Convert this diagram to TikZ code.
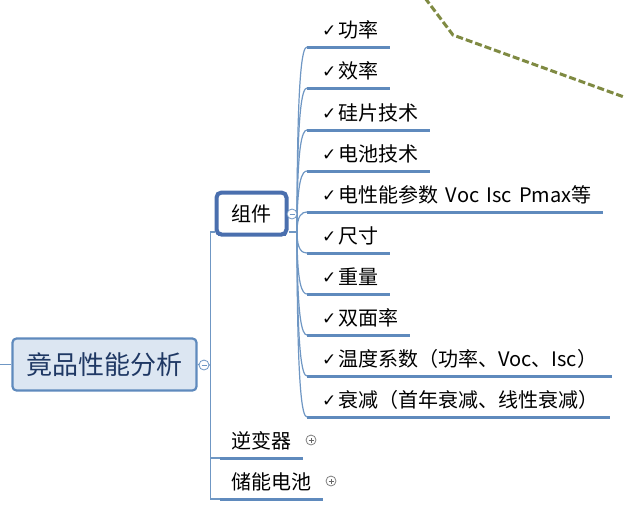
\documentclass[tikz,border=0pt]{standalone}
\usepackage{fontspec}
\setmainfont{Noto Sans CJK SC}
\newfontfamily\chkfont{DejaVu Sans}
\usetikzlibrary{calc}
\definecolor{barblue}{HTML}{5F8ABD}
\definecolor{wireblue}{HTML}{6F97C4}
\definecolor{boxblue}{HTML}{4A6FAE}
\definecolor{rootfill}{HTML}{DCE6F2}
\definecolor{rootedge}{HTML}{5F8ABD}
\definecolor{roottext}{HTML}{1F3864}
\definecolor{dashol}{HTML}{7F8A42}
\newcommand{\ck}{\makebox[16pt][l]{\raisebox{1pt}{\chkfont\fontsize{17}{17}\selectfont ✓}}}
\tikzset{
  leaf/.style={anchor=south west,inner xsep=0pt,inner ysep=0pt,text height=14pt,text depth=9.5pt,align=left,font=\fontsize{20}{22}\selectfont,text=black},
  bar/.style={draw=barblue,line width=3pt},
  wire/.style={draw=wireblue,line width=1.2pt},
  toggle/.style={circle,draw=#1,fill=white,line width=.8pt,minimum size=10pt,inner sep=0pt}
}
\newcommand{\leafnode}[5]{%
  \node[leaf,text width=#4pt] (#1) at (#2,#3) {\hspace*{15pt}\ck #5};
  \draw[bar] (#1.south west) -- (#1.south east);
  \draw[wire] (hub) .. controls ($(hub)!0.85!(hub|-#1.south west)$) and ($(#1.south west)+(-5,0)$) .. (#1.south west);
}
\begin{document}
\begin{tikzpicture}[x=1pt,y=-1pt]
\useasboundingbox (0,0) rectangle (624,507);
\fill[white] (0,0) rectangle (624,507);
\draw[dashol,line width=3pt,dash pattern=on 7pt off 3pt] (425,-2) -- (453,35) -- (624,97);

\coordinate (leftend) at (0,364.5);
\node[draw=rootedge,fill=rootfill,line width=2.2pt,rounded corners=4pt,minimum width=184pt,minimum height=52pt,inner sep=0pt,text=roottext,font=\fontsize{26}{28}\selectfont] (root) at (104.5,364.5) {竟品性能分析};
\draw[wire] (leftend) -- (root.west);

\node[draw=boxblue,line width=4pt,rounded corners=5pt,minimum width=70pt,minimum height=42pt,inner sep=0pt,font=\fontsize{20}{22}\selectfont] (zj) at (251.5,213.5) {组件};
\draw[draw=boxblue,line width=2.5pt] ([xshift=3pt,yshift=1.5pt]zj.south west) -- ([xshift=-3pt,yshift=1.5pt]zj.south east);
\coordinate (hub) at (297,232);
\coordinate (spine) at (210.5,365);

\leafnode{a}{307}{47}{83}{功率}
\leafnode{b}{307}{88}{83}{效率}
\leafnode{c}{307}{130}{123}{硅片技术}
\leafnode{d}{307}{171}{123}{电池技术}
\leafnode{e}{307}{212}{296}{电性能参数\hspace{1pt} Voc\hspace{.5pt} Isc\hspace{.5pt} Pmax等}
\leafnode{f}{307}{253}{83}{尺寸}
\leafnode{g}{307}{294}{83}{重量}
\leafnode{h}{307}{335}{103}{双面率}
\leafnode{i}{307}{376}{305}{温度系数（功率、Voc、Isc）}
\leafnode{j}{307}{417}{303}{衰减（首年衰减、线性衰减）}

\node[leaf,text width=83pt] (inv) at (220,458) {\hspace*{11pt}逆变器};
\draw[bar] (inv.south west) -- (inv.south east);
\node[leaf,text width=103pt] (bat) at (220,499) {\hspace*{11pt}储能电池};
\draw[bar] (bat.south west) -- (bat.south east);

\draw[wire] (root.east) -- (spine);
\draw[wire] (zj.south west|-hub) -- (spine|-hub) -- (spine|-bat.south west) -- (bat.south west);
\draw[wire] (spine|-inv.south west) -- (inv.south west);
\draw[wire] (zj.south east|-hub) -- (hub);

\node[toggle=wireblue] (t1) at (204,365) {};
\draw[wireblue,line width=.8pt] ([xshift=-2.5pt]t1.center) -- ([xshift=2.5pt]t1.center);
\node[toggle=wireblue] (t2) at (292,214) {};
\draw[wireblue,line width=.8pt] ([xshift=-2.5pt]t2.center) -- ([xshift=2.5pt]t2.center);
\node[toggle=gray] (t3) at (311,440) {};
\draw[gray!80!black,line width=.8pt] ([xshift=-2.5pt]t3.center) -- ([xshift=2.5pt]t3.center) ([yshift=-2.5pt]t3.center) -- ([yshift=2.5pt]t3.center);
\node[toggle=gray] (t4) at (331,481) {};
\draw[gray!80!black,line width=.8pt] ([xshift=-2.5pt]t4.center) -- ([xshift=2.5pt]t4.center) ([yshift=-2.5pt]t4.center) -- ([yshift=2.5pt]t4.center);
\end{tikzpicture}
\end{document}
